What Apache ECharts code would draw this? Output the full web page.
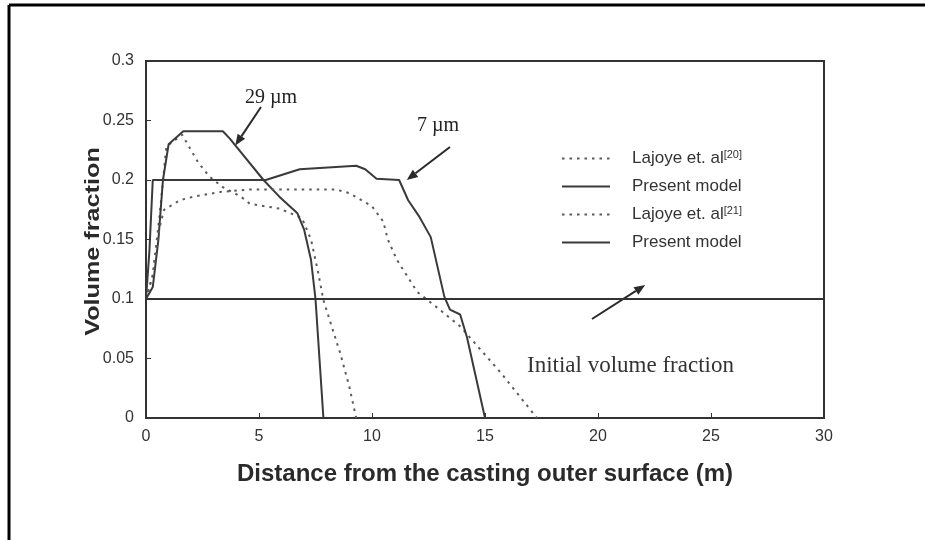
<!DOCTYPE html>
<html>
<head>
<meta charset="utf-8">
<script src="https://cdn.jsdelivr.net/npm/echarts@6/dist/echarts.min.js"></script>
<style>
  html, body { margin: 0; padding: 0; background: #fff; }
  #chart { width: 925px; height: 540px; }
</style>
</head>
<body>
<div id="chart"></div>
<script>
// Volume fraction profiles vs. distance from the casting outer surface
const xTicks = [0, 5, 10, 15, 20, 25, 30];
const yTicks = [0, 0.05, 0.1, 0.15, 0.2, 0.25, 0.3];

// Lajoye et al. [20] — 29 µm
const lajoye20 = [
  [0, 0.1], [0.3, 0.12], [0.6, 0.17], [0.9, 0.228], [1.6, 0.238], [2.3, 0.215],
  [2.8, 0.203], [3.4, 0.194], [4.2, 0.186], [4.6, 0.18], [5.9, 0.176], [6.9, 0.168],
  [7.3, 0.15], [7.6, 0.124], [7.85, 0.099], [8.6, 0.054], [9.0, 0.026], [9.3, 0]
];
// Present model — 29 µm
const present29 = [
  [0, 0.1], [0.3, 0.11], [0.55, 0.15], [0.75, 0.2], [1.0, 0.23], [1.65, 0.241],
  [3.4, 0.241], [3.7, 0.235], [5.2, 0.2], [5.9, 0.186], [6.7, 0.172], [7.0, 0.158],
  [7.3, 0.133], [7.5, 0.1], [7.85, 0]
];
// Lajoye et al. [21] — 7 µm
const lajoye21 = [
  [0, 0.1], [0.3, 0.12], [0.6, 0.16], [0.8, 0.175], [1.5, 0.183], [2.1, 0.186],
  [3.3, 0.19], [4.6, 0.192], [8.4, 0.192], [9.0, 0.189], [10.0, 0.178], [10.5, 0.165],
  [10.7, 0.15], [11.1, 0.133], [12.0, 0.106], [13.0, 0.091], [13.9, 0.077],
  [15.7, 0.038], [17.3, 0]
];
// Present model — 7 µm
const present7 = [
  [0, 0.1], [0.15, 0.14], [0.3, 0.2], [5.3, 0.2], [6.8, 0.209], [9.3, 0.212],
  [9.7, 0.209], [10.2, 0.201], [11.2, 0.2], [11.6, 0.183], [12.1, 0.169],
  [12.6, 0.152], [13.2, 0.102], [13.45, 0.091], [13.9, 0.087], [14.2, 0.068], [15, 0]
];
// Initial volume fraction
const initialFraction = [[0, 0.1], [30, 0.1]];

const yTitle = 'Volume fraction';
const legendLabels = {
  'L20': 'Lajoye et. al{sup|[20]}',
  'P29': 'Present model',
  'L21': 'Lajoye et. al{sup|[21]}',
  'P7': 'Present model'
};

const solidColor = '#3a3a3a';
const dotColor = '#5a5a5a';

function arrow(x1, y1, x2, y2, head) {
  const a = Math.atan2(y2 - y1, x2 - x1);
  const h = head || 11, w = 4.5;
  const bx = x2 - h * Math.cos(a), by = y2 - h * Math.sin(a);
  return [
    { type: 'line', shape: { x1: x1, y1: y1, x2: bx, y2: by },
      style: { stroke: '#2a2a2a', lineWidth: 2 } },
    { type: 'polygon', shape: { points: [
        [x2, y2],
        [bx + w * Math.sin(a), by - w * Math.cos(a)],
        [bx - w * Math.sin(a), by + w * Math.cos(a)]
      ] }, style: { fill: '#2a2a2a' } }
  ];
}

const chart = echarts.init(document.getElementById('chart'), null, { renderer: 'canvas' });

const option = {
  backgroundColor: '#fff',
  animation: false,
  grid: { left: 146, right: 101, top: 61, bottom: 122, show: true,
          borderColor: '#333', borderWidth: 2, backgroundColor: 'transparent' },
  xAxis: {
    type: 'value', min: 0, max: 30, interval: 5,
    name: 'Distance from the casting outer surface (m)',
    nameLocation: 'middle', nameGap: 44, nameMoveOverlap: false,
    nameTextStyle: { fontFamily: 'Liberation Sans', fontWeight: 'bold', fontSize: 24, color: '#2a2a2a' },
    axisLine: { lineStyle: { color: '#333', width: 2 } },
    axisTick: { inside: true, length: 5, lineStyle: { color: '#333' } },
    axisLabel: { fontFamily: 'Liberation Sans', fontSize: 16, color: '#333', margin: 11 },
    splitLine: { show: false }
  },
  yAxis: {
    type: 'value', min: 0, max: 0.3, interval: 0.05,
    axisLine: { lineStyle: { color: '#333', width: 2 } },
    axisTick: { inside: true, length: 5, lineStyle: { color: '#333' } },
    axisLabel: { fontFamily: 'Liberation Sans', fontSize: 16, color: '#333', margin: 12,
                 formatter: v => String(+v.toFixed(2)) },
    splitLine: { show: false }
  },
  legend: {
    data: ['L20', 'P29', 'L21', 'P7'],
    orient: 'vertical', left: 556, top: 144, itemGap: 9,
    itemWidth: 48, itemHeight: 14,
    itemStyle: { opacity: 0 },
    formatter: name => legendLabels[name],
    textStyle: { fontFamily: 'Liberation Sans', fontSize: 17, color: '#333', lineHeight: 19,
                 padding: [0, 0, 0, 17],
                 rich: { sup: { fontSize: 11, verticalAlign: 'top', lineHeight: 19, padding: [0, 0, 6, 0],
                                fontFamily: 'Liberation Sans', color: '#333' } } }
  },
  series: [
    { name: 'L20', type: 'line', data: lajoye20, showSymbol: false, symbol: 'none',
      lineStyle: { color: dotColor, width: 2, type: [2.5, 5] }, itemStyle: { color: dotColor } },
    { name: 'P29', type: 'line', data: present29, showSymbol: false, symbol: 'none',
      lineStyle: { color: solidColor, width: 2 }, itemStyle: { color: solidColor } },
    { name: 'L21', type: 'line', data: lajoye21, showSymbol: false, symbol: 'none',
      lineStyle: { color: dotColor, width: 2, type: [2.5, 5] }, itemStyle: { color: dotColor } },
    { name: 'P7', type: 'line', data: present7, showSymbol: false, symbol: 'none',
      lineStyle: { color: solidColor, width: 2 }, itemStyle: { color: solidColor } },
    { name: 'Initial', type: 'line', data: initialFraction, showSymbol: false, symbol: 'none',
      lineStyle: { color: '#333', width: 2 } }
  ]
};
chart.setOption(option);

// Annotation text and arrows, anchored to points on the curves
const p29 = chart.convertToPixel({ gridIndex: 0 }, [3.95, 0.229]);
const p7 = chart.convertToPixel({ gridIndex: 0 }, [11.45, 0.2]);
const pInit = chart.convertToPixel({ gridIndex: 0 }, [22.0, 0.1]);
const yMid = chart.convertToPixel({ gridIndex: 0 }, [0, 0.15]);

const graphics = [
  // page frame
  { type: 'line', shape: { x1: 9, y1: 5, x2: 925, y2: 5 }, style: { stroke: '#000', lineWidth: 3 } },
  { type: 'line', shape: { x1: 9, y1: 5, x2: 9, y2: 540 }, style: { stroke: '#000', lineWidth: 3 } },
  // y-axis title, slightly widened along its length
  { type: 'text', x: 93, y: yMid[1] + 2, rotation: Math.PI / 2, scaleX: 1.2,
    style: { text: yTitle, font: 'bold 21px "Liberation Sans"', fill: '#2a2a2a',
             textAlign: 'center', textVerticalAlign: 'middle' } },
  { type: 'text', left: 245, top: 88,
    style: { text: '29 µm', font: '20px "Liberation Serif"', fill: '#222' } },
  { type: 'text', left: 417, top: 116,
    style: { text: '7 µm', font: '20px "Liberation Serif"', fill: '#222' } },
  { type: 'text', left: 527, top: 354,
    style: { text: 'Initial volume fraction', font: '23px "Liberation Serif"', fill: '#333' } }
]
  .concat(arrow(261, 107, p29[0], p29[1]))
  .concat(arrow(450, 147, p7[0] + 2, p7[1]))
  .concat(arrow(592, 319, pInit[0] + 2, pInit[1] - 14));

chart.setOption({ graphic: graphics });
</script>
</body>
</html>
